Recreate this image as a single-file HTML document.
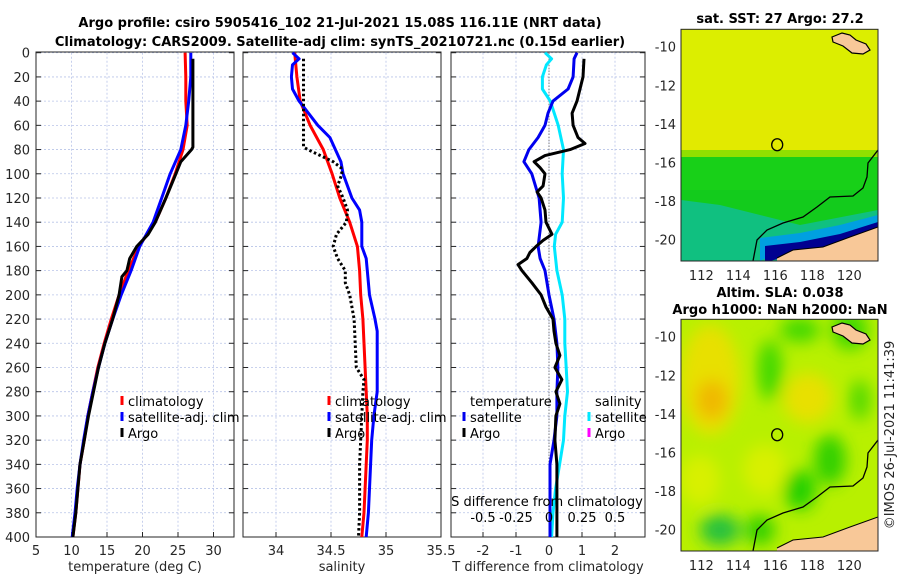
<!DOCTYPE html>
<html><head><meta charset="utf-8">
<style>
html,body{margin:0;padding:0;background:#fff;}
svg{display:block;font-family:"DejaVu Sans","Liberation Sans",sans-serif;}
.tk{font-size:13px;fill:#262626;}
.tt{font-size:13px;font-weight:bold;fill:#000;}
.lg{font-size:13px;fill:#000;}
</style></head>
<body>
<svg id="fig" width="900" height="580" viewBox="0 0 900 580">
<text class="tt" x="340" y="27" text-anchor="middle">Argo profile: csiro 5905416_102 21-Jul-2021 15.08S 116.11E (NRT data)</text>
<text class="tt" x="340" y="46" text-anchor="middle">Climatology: CARS2009. Satellite-adj clim: synTS_20210721.nc (0.15d earlier)</text>
<g id="plots"></g>
<g id="maps"></g>
<text class="tk" transform="translate(894,435) rotate(-90)" text-anchor="middle">©IMOS 26-Jul-2021 11:41:39</text>
</svg>
<script>
// ---------- DATA ----------
const depthLevels=[0,20,40,60,80,100,120,140,160,180,200,220,240,260,280,300,320,340,360,380,400];
const climTemp=[26.0,26.1,26.1,26.3,25.7,24.6,23.3,21.8,19.5,18.0,16.7,15.6,14.6,13.7,13.0,12.3,11.8,11.2,10.9,10.6,10.2];
const satTemp=[26.8,26.8,26.5,26.1,25.4,23.9,22.7,21.5,19.6,18.4,17.0,15.8,14.7,13.8,13.0,12.3,11.7,11.2,10.8,10.5,10.1];
const argoTempDepth=[5,20,40,60,78,80,90,100,120,140,150,160,170,180,185,200,220,240,260,280,300,320,340,360,380,400];
const argoTemp=[27.1,27.1,27.1,27.1,27.1,26.9,25.4,24.7,23.3,21.8,20.8,19.2,18.2,17.8,17.1,16.7,15.8,14.7,13.8,13.1,12.4,11.8,11.2,10.9,10.6,10.2];
const climSal=[34.17,34.19,34.22,34.31,34.43,34.51,34.58,34.67,34.74,34.76,34.77,34.79,34.80,34.81,34.82,34.83,34.83,34.82,34.81,34.80,34.78];
const satSalDepth=[0,5,10,20,30,40,60,70,80,90,100,120,130,140,160,170,180,200,220,230,240,260,280,300,320,340,360,380,400];
const satSal=[34.15,34.21,34.15,34.14,34.15,34.21,34.38,34.49,34.54,34.59,34.61,34.69,34.76,34.78,34.78,34.82,34.83,34.85,34.90,34.92,34.92,34.92,34.92,34.89,34.87,34.86,34.85,34.84,34.82];
const argoSalDepth=[5,78,80,90,95,100,110,120,130,140,150,160,170,180,190,200,220,240,260,270,280,300,320,340,360,380,400];
const argoSal=[34.25,34.25,34.29,34.52,34.59,34.60,34.56,34.61,34.65,34.64,34.55,34.52,34.56,34.63,34.63,34.67,34.71,34.72,34.73,34.80,34.79,34.78,34.77,34.76,34.76,34.76,34.75];
const satDTDepth=[0,5,20,30,40,50,60,70,80,90,100,120,140,160,170,180,200,220,240,260,280,300,320,340,360,380,400];
const satDT=[0.85,0.76,0.73,0.58,0.12,-0.03,-0.12,-0.33,-0.61,-0.76,-0.52,-0.30,-0.24,-0.33,-0.27,-0.12,0,0.15,0.24,0.27,0.24,0.24,0.15,0.03,0.03,0.03,0.03];
const argoDTDepth=[5,20,40,50,60,70,75,80,85,90,95,100,110,115,120,130,140,150,155,160,165,170,175,180,190,200,210,220,230,240,250,260,270,280,290,300,320,340,360,380,400];
const argoDT=[1.06,1.03,0.85,0.70,0.73,0.88,1.09,0.64,-0.12,-0.45,-0.27,-0.12,-0.18,-0.36,-0.24,-0.12,-0.09,0.09,-0.18,-0.39,-0.58,-0.67,-0.94,-0.82,-0.52,-0.24,-0.09,0.12,0.15,0.21,0.33,0.18,0.39,0.21,0.33,0.21,0.18,0.24,0.24,0.24,0.24];
const satDSDepth=[0,5,10,20,30,40,60,80,100,120,140,150,160,180,200,220,240,260,280,300,320,340,360,380,400];
const satDS=[-0.03,0.02,-0.02,-0.05,-0.05,0.01,0.07,0.11,0.10,0.11,0.10,0.05,0.04,0.06,0.10,0.12,0.12,0.13,0.14,0.12,0.11,0.08,0.05,0.03,0.02];
const depthTicks=[0,20,40,60,80,100,120,140,160,180,200,220,240,260,280,300,320,340,360,380,400];
const tempTicks=[5,10,15,20,25,30];
const salTicks=[34,34.5,35,35.5];
const salTickLabels=["34","34.5","35","35.5"];
const dtTicks=[-2,-1,0,1,2];
const dsTicks=[-0.5,-0.25,0,0.25,0.5];
const dsTickLabels=["-0.5","-0.25","0","0.25","0.5"];
const lonTicks=[112,114,116,118,120];
const latTicks=[-10,-12,-14,-16,-18,-20];

// ---------- helpers ----------
const NS="http://www.w3.org/2000/svg";
function mk(tag,attrs,parent){const e=document.createElementNS(NS,tag);for(const k in attrs)e.setAttribute(k,attrs[k]);(parent||document.getElementById('plots')).appendChild(e);return e;}
const Y0=52.7,YS=(537-52.7)/400;
function yD(d){return Y0+d*YS;}
function xT(t){return 36+(t-5)*7.1;}
function xS(s){return 276+(s-34)*110;}
function xDT(v){return 549+v*33;}
function xDS(v){return 549+v*132;}
const panels=[{x0:36,x1:234},{x0:243,x1:441},{x0:451,x1:645}];
const pg=document.getElementById('plots');

function panelFrame(p,name,vx,vt,labs,xl){
  const g=mk('g',{},pg);
  
  
  depthTicks.forEach(d=>{const l=mk('line',{x1:p.x0,x2:p.x1,y1:yD(d),y2:yD(d),stroke:'#b8c4e8','stroke-width':0.8,'stroke-dasharray':'2,2'},g);
    
    
    mk('line',{x1:p.x0,x2:p.x0+5,y1:yD(d),y2:yD(d),stroke:'#262626'},g);
    mk('line',{x1:p.x1-5,x2:p.x1,y1:yD(d),y2:yD(d),stroke:'#262626'},g);});
  vt.forEach((t,i)=>{const x=vx(t);if(x<p.x0+1||x>p.x1-1)return;
    const l=mk('line',{x1:x,x2:x,y1:Y0,y2:537,stroke:'#b8c4e8','stroke-width':0.8,'stroke-dasharray':'2,2'},g);
    
    });
  vt.forEach((t,i)=>{const x=vx(t);
    mk('line',{x1:x,x2:x,y1:537,y2:532,stroke:'#262626'},g);
    const tx=mk('text',{x:x,y:555,'text-anchor':'middle',class:'tk'},g);tx.textContent=labs[i];
    
    });
  const r=mk('rect',{x:p.x0,y:Y0-0.7,width:p.x1-p.x0,height:537-Y0+0.7,fill:'none',stroke:'#262626','stroke-width':1},g);
  
  
  const t=mk('text',{x:(p.x0+p.x1)/2,y:571,'text-anchor':'middle',class:'tk'},g);t.textContent=xl;
  
  
  return g;
}
function line(xs,ds,fx,color,w,name,dash){
  const pts=xs.map((v,i)=>fx(v).toFixed(1)+','+yD(ds[i]).toFixed(1)).join(' ');
  const a={points:pts,fill:'none',stroke:color,'stroke-width':w,'stroke-linejoin':'round'};
  if(dash)a['stroke-dasharray']=dash;
  const e=mk('polyline',a,pg);
  
  
}
function legend(x,y,color,label,name){
  const g=mk('g',{},pg);
  
  
  if(color)mk('line',{x1:x,x2:x,y1:y-10,y2:y-1,stroke:color,'stroke-width':3},g);
  const t=mk('text',{x:x+6,y:y,class:'lg'},g);t.textContent=label;
}

depthTicks.forEach(d=>{const t=mk('text',{x:30,y:yD(d)+5,'text-anchor':'end',class:'tk'},pg);t.textContent=d;
  
  });

panelFrame(panels[0],'temperature-axes',xT,tempTicks,tempTicks.map(String),'temperature (deg C)');
panelFrame(panels[1],'salinity-axes',xS,salTicks,salTickLabels,'salinity');
panelFrame(panels[2],'difference-axes',xDT,dtTicks,dtTicks.map(String),'T difference from climatology');

const z=mk('line',{x1:xDT(0),x2:xDT(0),y1:Y0,y2:537,stroke:'#555','stroke-width':1,'stroke-dasharray':'1,2'},pg);



line(climTemp,depthLevels,xT,'#ff0000',3,'temp-climatology-line');
line(satTemp,depthLevels,xT,'#0000ff',3,'temp-satellite-line');
line(argoTemp,argoTempDepth,xT,'#000',3,'temp-argo-line');
line(climSal,depthLevels,xS,'#ff0000',3,'sal-climatology-line');
line(satSal,satSalDepth,xS,'#0000ff',3,'sal-satellite-line');
line(argoSal,argoSalDepth,xS,'#000',3,'sal-argo-line','2.5,2.5');
line(satDS,satDSDepth,xDS,'#00e8ff',3,'sal-diff-satellite-line');
line(satDT,satDTDepth,xDT,'#0000ee',3,'temp-diff-satellite-line');
line(argoDT,argoDTDepth,xDT,'#000',3,'temp-diff-argo-line');

legend(122,406,'#ff0000','climatology','legend-climatology');
legend(122,422,'#0000ff','satellite-adj. clim','legend-satellite');
legend(122,438,'#000','Argo','legend-argo');
legend(329,406,'#ff0000','climatology','legend-sal-climatology');
legend(329,422,'#0000ff','satellite-adj. clim','legend-sal-satellite');
legend(329,438,'#000','Argo','legend-sal-argo');
legend(464,406,null,'temperature','legend-temp-header');
legend(464,422,'#0000ee','satellite','legend-diff-temp-sat');
legend(464,438,'#000','Argo','legend-diff-temp-argo');
legend(589,406,null,'salinity','legend-sal-header');
legend(589,422,'#00e8ff','satellite','legend-diff-sal-sat');
legend(589,438,'#ff00ff','Argo','legend-diff-sal-argo');

const st=mk('text',{x:547,y:506,'text-anchor':'middle',class:'lg'},pg);st.textContent='S difference from climatology';


dsTicks.forEach((v,i)=>{const t=mk('text',{x:xDS(v),y:522,'text-anchor':'middle',class:'lg'},pg);t.textContent=dsTickLabels[i];
  
  });

// ---------- MAPS ----------
const mg=document.getElementById('maps');
function mx(lon){return 681+(lon-110.9)*18.5;}
function my(lat,off){return off+46.7+(-10-lat)*19.3;}
const coastPx=[[878,150],[868,163],[867,177],[863,188],[853,196],[830,197],[817,207],[803,217],[783,223],[767,230],[757,240],[753,261]];
const landPx=[[878,227],[850,237],[823,247],[793,250],[777,258],[777,261],[878,261]];
const islandPx=[[832,37],[842,33],[850,35],[856,40],[866,44],[870,50],[863,54],[852,53],[843,46],[833,42]];
function poly(arr,dy){return arr.map(p=>p[0]+','+(p[1]+dy)).join(' ');}
function map(off,title1,title2,kind){
  const g=mk('g',{},mg);
  
  
  const top=off+29.3,bot=off+261,L=681,R=878;
  const cid='clip'+kind;
  const cp=mk('clipPath',{id:cid},g);mk('rect',{x:L,y:top,width:R-L,height:bot-top},cp);
  const c=mk('g',{'clip-path':'url(#'+cid+')'},g);
  if(kind==='sst'){
    mk('rect',{x:L,y:top,width:R-L,height:bot-top,fill:'#dcee00'},c);
    mk('rect',{x:L,y:off+110,width:R-L,height:40,fill:'#e6e800',opacity:0.6},c);
    mk('rect',{x:L,y:off+150,width:R-L,height:10,fill:'#90e000'},c);
    mk('rect',{x:L,y:off+157,width:R-L,height:110,fill:'#18d018'},c);
    mk('rect',{x:L,y:off+190,width:R-L,height:40,fill:'#10c820',opacity:0.6},c);
    mk('polygon',{points:poly([[681,200],[720,205],[760,215],[800,225],[878,210],[878,261],[681,261]],off),fill:'#10c080'},c);
    mk('polygon',{points:poly([[760,238],[800,233],[840,225],[878,215],[878,232],[840,242],[800,250],[770,256],[760,261]],off),fill:'#00a0e0'},c);
    mk('polygon',{points:poly([[765,246],[800,242],[840,234],[878,222],[878,232],[840,245],[800,253],[770,261],[765,261]],off),fill:'#000090'},c);
  } else {
    mk('rect',{x:L,y:top,width:R-L,height:bot-top,fill:'#b8f000'},c);
    const f=mk('filter',{id:'blr',x:'-50%',y:'-50%',width:'200%',height:'200%'},g);mk('feGaussianBlur',{stdDeviation:8},f);
    const bl=mk('g',{filter:'url(#blr)'},c);
    [[710,380,30,55,'#e8e000'],[712,400,16,20,'#f0b800'],[808,398,25,25,'#e8e000'],[765,470,22,25,'#d8f000'],[700,480,20,25,'#d8f000'],
     [850,330,18,20,'#40d800'],[800,330,20,12,'#40d800'],[770,370,12,30,'#40d800'],[830,460,16,25,'#30d000'],[800,490,16,20,'#20d000'],
     [720,530,20,15,'#20c040'],[760,530,15,15,'#30d000'],[860,400,10,20,'#50d800']].forEach(b=>mk('ellipse',{cx:b[0],cy:b[1],rx:b[2],ry:b[3],fill:b[4]},bl));
  }
  mk('polygon',{points:poly(landPx,off),fill:'#f8c898'},c);
  mk('polygon',{points:poly(islandPx,off),fill:'#f8c898',stroke:'#000','stroke-width':1.2},c);
  const cl=mk('polyline',{points:poly(coastPx,off),fill:'none',stroke:'#000','stroke-width':1.3},c);
  
  
  mk('polyline',{points:poly(landPx.slice(0,5),off),fill:'none',stroke:'#000','stroke-width':1},c);
  const fl=mk('ellipse',{cx:mx(116.1),cy:my(-15.08,off),rx:5.5,ry:6,fill:'none',stroke:'#000','stroke-width':1.3},g);
  
  
  mk('rect',{x:L,y:top,width:R-L,height:bot-top,fill:'none',stroke:'#262626','stroke-width':1},g);
  latTicks.forEach(v=>{const t=mk('text',{x:676,y:my(v,off)+5,'text-anchor':'end',class:'tk'},g);t.textContent=v;
    
    });
  lonTicks.forEach(v=>{const t=mk('text',{x:mx(v),y:off+280,'text-anchor':'middle',class:'tk'},g);t.textContent=v;
    
    });
  const t1=mk('text',{x:780,y:off+(title2?7:23),'text-anchor':'middle',class:'tt'},g);t1.textContent=title1;
  
  
  if(title2){const t2=mk('text',{x:780,y:off+24,'text-anchor':'middle',class:'tt'},g);t2.textContent=title2;
    
    }
}
map(0,'sat. SST: 27 Argo: 27.2',null,'sst');
map(290,'Altim. SLA: 0.038','Argo h1000: NaN h2000: NaN','sla');
</script>
</body></html>
